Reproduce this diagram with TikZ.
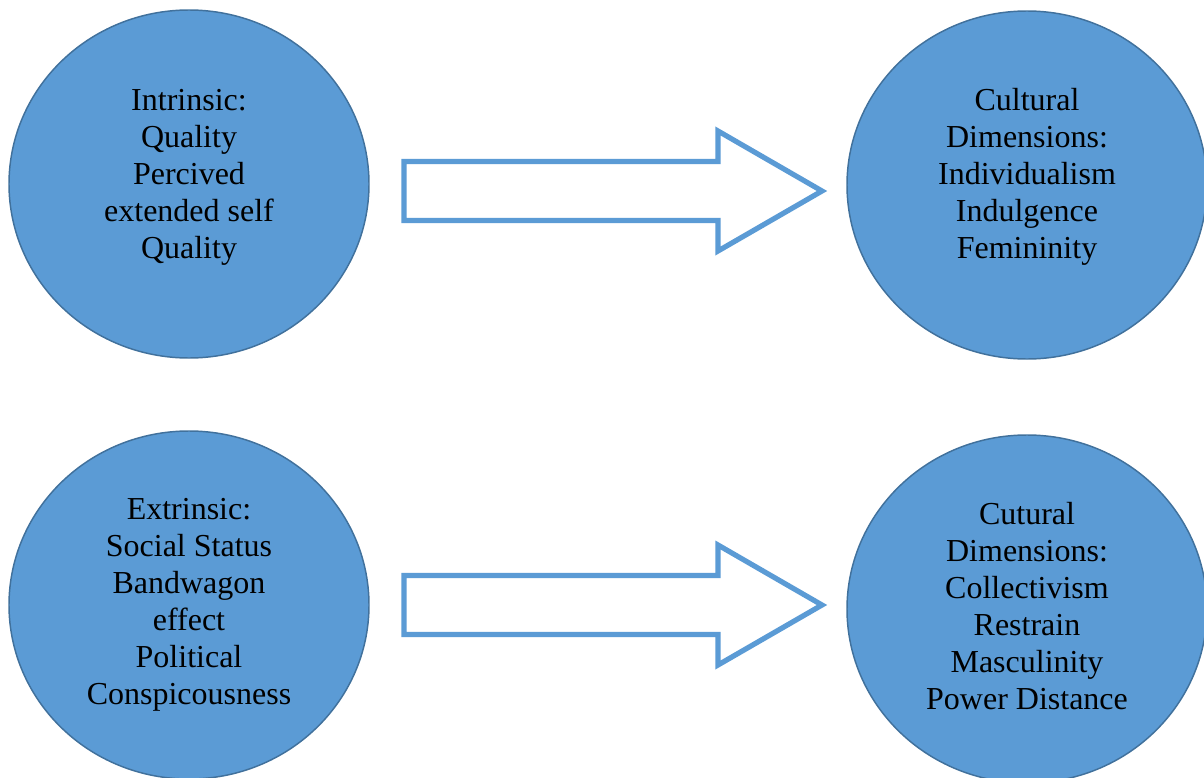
\documentclass[tikz,border=0pt]{standalone}
\usepackage{fontspec}
\setmainfont{Liberation Serif}
\usetikzlibrary{shapes.geometric}
\definecolor{bubblefill}{HTML}{5B9BD5}
\definecolor{bubbleline}{HTML}{41719C}
\definecolor{arrowline}{HTML}{5B9BD5}
\tikzset{
  bubble/.style={ellipse, draw=bubbleline, line width=1.1pt, fill=bubblefill,
    minimum width=270pt, minimum height=261pt, inner sep=0pt},
  bubbletext/.style={align=center, inner sep=0pt,
    font=\fontsize{24}{27.75}\selectfont, text=black},
  blockarrow/.style={draw=arrowline, line width=3.9pt, fill=white, line join=miter},
}
\begin{document}
\begin{tikzpicture}[x=0.75pt, y=-0.75pt]
\useasboundingbox (0,0) rectangle (1204,778);

% circles
\node[bubble] (intr) at (189,184) {};
\node[bubble] (cultA) at (1027,185) {};
\node[bubble] (extr) at (189,605) {};
\node[bubble] (cultB) at (1027,609) {};

% labels
\node[bubbletext] (intrT) at (189,177) {Intrinsic:\\Quality\\Percived\\extended self\\Quality};
\node[bubbletext] (cultAT) at (1027,177) {Cultural\\Dimensions:\\Individualism\\Indulgence\\Femininity};
\node[bubbletext] (extrT) at (189,605) {Extrinsic:\\Social Status\\Bandwagon\\effect\\Political\\Conspicousness};
\node[bubbletext] (cultBT) at (1027,606) {Cutural\\Dimensions:\\Collectivism\\Restrain\\Masculinity\\Power Distance};

% block arrows between the circles
\coordinate (arrA) at (404,191);
\coordinate (arrB) at (404,605);
\foreach \c in {arrA,arrB}{
  \draw[blockarrow] (\c) ++(0,-29.5) -- ++(314,0) -- ++(0,-30.5) -- ++(104,60)
    -- ++(-104,60) -- ++(0,-30.5) -- ++(-314,0) -- cycle;
}
\end{tikzpicture}
\end{document}
